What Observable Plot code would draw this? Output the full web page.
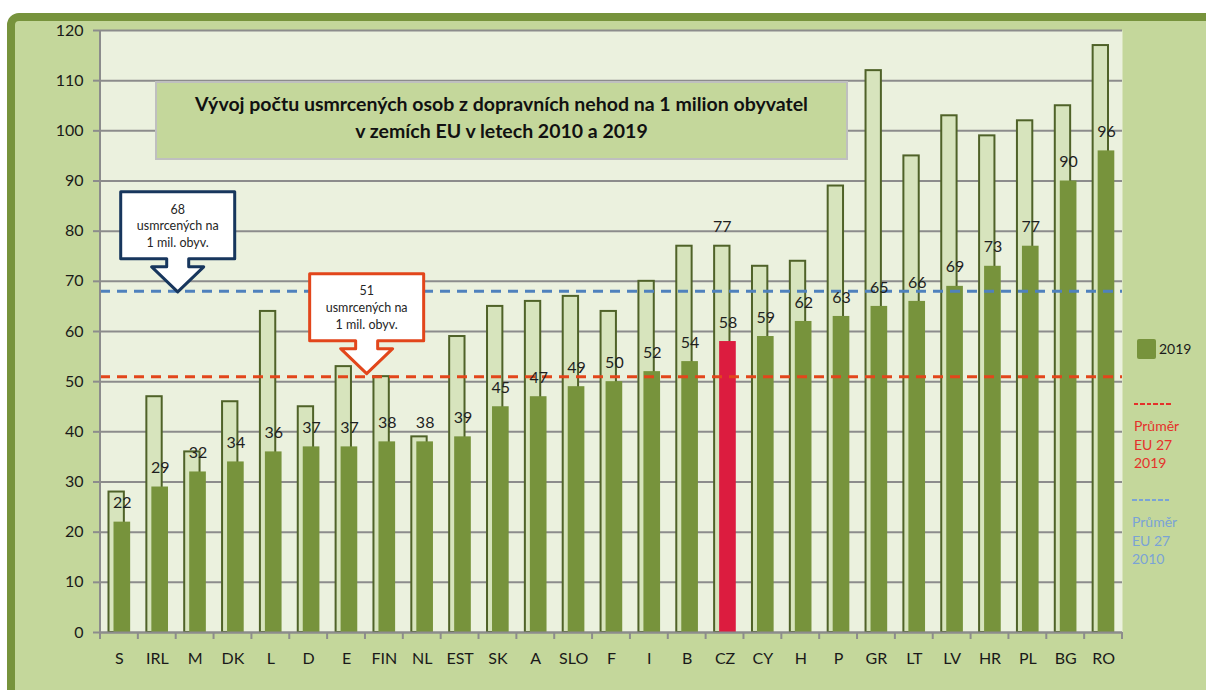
<!DOCTYPE html>
<html>
<head>
<meta charset="utf-8">
<script src="https://cdn.jsdelivr.net/npm/d3@7"></script>
<script src="https://cdn.jsdelivr.net/npm/@observablehq/plot@0.6"></script>
<style>
  html, body { margin:0; padding:0; background:#fff; width:1206px; height:690px; overflow:hidden; font-family: Lato, "Open Sans", sans-serif; }
  #frame { position:absolute; left:7px; top:13px; width:1240px; height:720px; box-sizing:border-box; border:8px solid #77933c; border-radius:12px; background:#c4d79b; }
  #chart { position:absolute; left:0; top:0; }
  #title { position:absolute; left:155px; top:81px; width:693px; height:79px; box-sizing:border-box; border:2px solid #bfbfbf; background:#c4d79b; text-align:center; font-weight:bold; font-size:19.5px; line-height:27px; padding-top:7px; color:#111; }
  .leg { position:absolute; font-size:14px; line-height:18.5px; }
  #patch { position:absolute; left:1117px; top:479px; width:89px; height:87px; background:#c4d79b; }
  .dash { width:38px; height:2px; margin-bottom:12px; }
</style>
</head>
<body>
<div id="frame"></div>
<div id="patch"></div>
<div id="chart"></div>
<div id="title">Vývoj počtu usmrcených osob z dopravních nehod na 1 milion obyvatel<br>v zemích EU v letech 2010 a 2019</div>
<div class="leg" style="left:1137px;top:339px;"><span style="display:inline-block;width:19px;height:20px;background:#77933c;border-radius:2px;vertical-align:middle;"></span><span style="vertical-align:middle;margin-left:3px;color:#1a1a1a;">2019</span></div>
<div class="leg" style="left:1134px;top:403px;color:#e5312a;"><div class="dash" style="background:repeating-linear-gradient(to right,#e5312a 0 4.5px,transparent 4.5px 6.5px);"></div>Průměr<br>EU 27<br>2019</div>
<div class="leg" style="left:1132px;top:499px;color:#7aa3d6;"><div class="dash" style="background:repeating-linear-gradient(to right,#7aa3d6 0 4.5px,transparent 4.5px 6.5px);"></div>Průměr<br>EU 27<br>2010</div>
<script>
const countries = ["S","IRL","M","DK","L","D","E","FIN","NL","EST","SK","A","SLO","F","I","B","CZ","CY","H","P","GR","LT","LV","HR","PL","BG","RO"];
const v2010 = [28,47,36,46,64,45,53,51,39,59,65,66,67,64,70,77,77,73,74,89,112,95,103,99,102,105,117];
const v2019 = [22,29,32,34,36,37,37,38,38,39,45,47,49,50,52,54,58,59,62,63,65,66,69,73,77,90,96];
const yTicks = [0,10,20,30,40,50,60,70,80,90,100,110,120];
const avg2010 = 68;
const avg2019 = 51;
const highlight = "CZ";
const callout2010 = ["68", "usmrcených na", "1 mil. obyv."];
const callout2019 = ["51", "usmrcených na", "1 mil. obyv."];

const data = countries.map((c, i) => ({c, a: v2010[i], b: v2019[i]}));

const green = "#77933c", red = "#dc1c3f", lightFill = "#d7e4bd", lightStroke = "#4f6228", grid = "#8c8c8c";
const blueLine = "#4f81bd", redLine = "#e2461b", navy = "#17365d";

const plot = Plot.plot({
  width: 1206, height: 690,
  marginLeft: 100, marginRight: 84, marginTop: 30, marginBottom: 58,
  style: {background: "transparent", fontFamily: "Lato, sans-serif", fontSize: "16px", overflow: "visible"},
  x: {type: "band", domain: countries, padding: 0, round: false, label: null},
  y: {domain: [0, 120], label: null},
  marks: [
    Plot.frame({fill: "#ebf1de", stroke: "none"}),
    Plot.gridY({ticks: yTicks, stroke: grid, strokeOpacity: 1, strokeWidth: 2}),
    Plot.barY(data, {x: "c", y: "a", fill: lightFill, stroke: lightStroke, strokeWidth: 2, insetLeft: 8.5, insetRight: 14}),
    Plot.barY(data, {x: "c", y: "b", fill: d => d.c === highlight ? red : green, insetLeft: 13.5, insetRight: 7.7}),
    Plot.ruleY([avg2010], {stroke: blueLine, strokeWidth: 3, strokeDasharray: "10,7"}),
    Plot.ruleY([avg2019], {stroke: redLine, strokeWidth: 3, strokeDasharray: "10,7"}),
    Plot.text(data, {x: "c", y: "b", text: d => String(d.b), dx: 2.9, dy: -19, fill: "#1f1f1f", fontSize: 16}),
    Plot.text(data.filter(d => d.c === highlight), {x: "c", y: "a", text: d => String(d.a), dx: -2.7, dy: -19, fill: "#1f1f1f", fontSize: 16}),
    Plot.ruleY([0], {stroke: grid, strokeWidth: 2}),
    Plot.axisY({ticks: yTicks, tickSize: 7, tickPadding: 10, stroke: grid, strokeWidth: 2, fill: "#1a1a1a", fontSize: 16, label: null}),
    Plot.axisX({tickSize: 0, tickPadding: 20, fill: "#1a1a1a", fontSize: 16, label: null})
  ]
});
document.getElementById("chart").appendChild(plot);

const xs = plot.scale("x"), ys = plot.scale("y");
const bw = xs.bandwidth;
const svg = d3.select(plot);
const g = svg.append("g");
const x0 = xs.apply(countries[0]);
const xN = xs.apply(countries[countries.length - 1]) + bw;
const yTop = ys.apply(120), yBot = ys.apply(0);
// left axis line
g.append("line").attr("x1", x0).attr("x2", x0).attr("y1", yTop).attr("y2", yBot).attr("stroke", grid).attr("stroke-width", 2);
// category boundary ticks
const bounds = countries.map(c => xs.apply(c)).concat([xN]);
g.selectAll("line.bt").data(bounds).join("line").attr("class", "bt")
  .attr("x1", d => d).attr("x2", d => d).attr("y1", yBot).attr("y2", yBot + 7)
  .attr("stroke", grid).attr("stroke-width", 2);

function callout(tipX, tipY, color, lines) {
  const W = 114, H = 67, neckHalf = 11, wingHalf = 26, neckH = 8, headH = 25;
  const B = tipY - headH - neckH, T = B - H, L = tipX - W / 2, R = tipX + W / 2;
  const p = `M${L},${T}H${R}V${B}H${tipX + neckHalf}V${B + neckH}H${tipX + wingHalf}L${tipX},${tipY}L${tipX - wingHalf},${B + neckH}H${tipX - neckHalf}V${B}H${L}Z`;
  const cg = g.append("g");
  cg.append("path").attr("d", p).attr("fill", "#fff").attr("stroke", color).attr("stroke-width", 3).attr("stroke-linejoin", "round");
  lines.forEach((t, i) => {
    cg.append("text").attr("x", tipX).attr("y", T + 17.3 + i * 16.8).attr("dy", "0.35em")
      .attr("text-anchor", "middle").attr("font-size", 12.5).attr("font-family", "Lato, sans-serif")
      .attr("fill", "#262626").text(t);
  });
}
callout(xs.apply("M") + 2, ys.apply(avg2010) + 1, navy, callout2010);
callout(xs.apply("FIN") + 1.7, ys.apply(avg2019) - 2.5, redLine, callout2019);
</script>
</body>
</html>
